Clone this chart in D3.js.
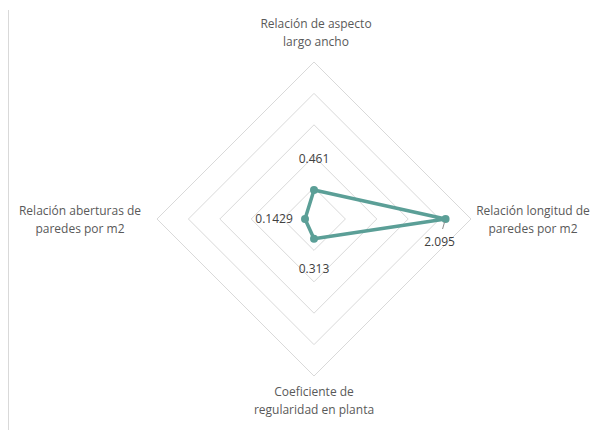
<!DOCTYPE html>
<html>
<head>
<meta charset="utf-8">
<script src="https://cdn.jsdelivr.net/npm/d3@7"></script>
<style>
  body { margin: 0; background: #fff; }
  text { font-family: "Open Sans", "Liberation Sans", sans-serif; fill: #595959; }
</style>
</head>
<body>
<svg id="chart" width="610" height="430"></svg>
<script>
// categories clockwise starting at the top
const categories = [
    ["Relación de aspecto", "largo ancho"],
    ["Relación longitud de", "paredes por m2"],
    ["Coeficiente de", "regularidad en planta"],
    ["Relación aberturas de", "paredes por m2"]
];
const values = [0.461, 2.095, 0.313, 0.1429];
const valueLabels = ["0.461", "2.095", "0.313", "0.1429"];
const gridTicks = [0.5, 1, 1.5, 2, 2.5];

const svg = d3.select("#chart");
const cx = 314;
const cy = 219;

const r = d3.scaleLinear().domain([0, 2.5]).range([0, 157]);
const angle = d3.scaleLinear().domain([0, categories.length]).range([0, 2 * Math.PI]);

function pt(i, v) {
    const a = angle(i);
    return [cx + Math.sin(a) * r(v), cy - Math.cos(a) * r(v)];
}

// left border line of the chart area
svg.append("line")
    .attr("x1", 8.5).attr("x2", 8.5)
    .attr("y1", 10).attr("y2", 430)
    .attr("stroke", "#d9d9d9");

// grid rings
svg.selectAll(".ring")
    .data(gridTicks)
    .enter().append("polygon")
    .attr("class", "ring")
    .attr("points", t => categories.map((c, i) => pt(i, t).join(",")).join(" "))
    .attr("fill", "none")
    .attr("stroke", "#d9d9d9")
    .attr("stroke-width", 1);

// category labels
const labelPos = [
    { x: cx + 2, y: 28 },
    { x: 533, y: 215 },
    { x: cx, y: 396 },
    { x: 80, y: 215 }
];
categories.forEach((lines, i) => {
    const t = svg.append("text")
        .attr("x", labelPos[i].x)
        .attr("y", labelPos[i].y)
        .attr("text-anchor", "middle")
        .attr("font-size", "12px");
    lines.forEach((l, j) => {
        t.append("tspan")
            .attr("x", labelPos[i].x)
            .attr("dy", j === 0 ? 0 : 18)
            .text(l);
    });
});

// series line
const pts = values.map((v, i) => pt(i, v));
svg.append("path")
    .attr("d", d3.line().curve(d3.curveLinearClosed)(pts))
    .attr("fill", "none")
    .attr("stroke", "#5b9f97")
    .attr("stroke-width", 3.5)
    .attr("stroke-linejoin", "round");

svg.selectAll(".dot")
    .data(pts)
    .enter().append("circle")
    .attr("class", "dot")
    .attr("cx", d => d[0])
    .attr("cy", d => d[1])
    .attr("r", 4)
    .attr("fill", "#5b9f97");

// leader line for the right value label
svg.append("line")
    .attr("x1", pts[1][0] - 1).attr("y1", pts[1][1] + 3)
    .attr("x2", pts[1][0] - 3).attr("y2", pts[1][1] + 10)
    .attr("stroke", "#8c8c8c");

// value labels
const valueOffsets = [[0, -27], [-6, 27], [0, 34], [-31, 4]];
valueLabels.forEach((lab, i) => {
    svg.append("text")
        .attr("x", pts[i][0] + valueOffsets[i][0])
        .attr("y", pts[i][1] + valueOffsets[i][1])
        .attr("text-anchor", "middle")
        .attr("font-size", "12px")
        .style("fill", "#404040")
        .text(lab);
});
</script>
</body>
</html>
